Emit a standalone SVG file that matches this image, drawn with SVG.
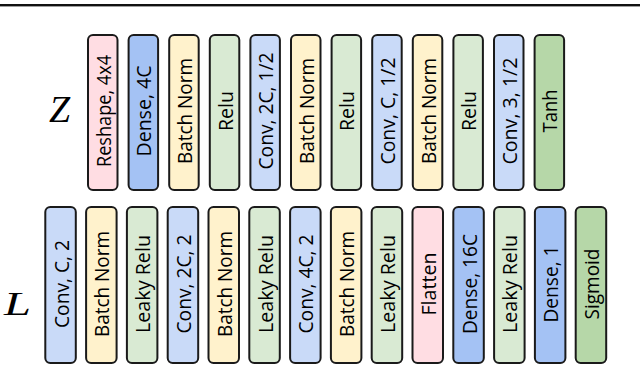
<svg xmlns="http://www.w3.org/2000/svg" width="640" height="366" viewBox="0 0 640 366">
<style>
.b{stroke:#1a1a1a;stroke-width:2;}
.pink{fill:#ffdde3}.dense{fill:#a4c2f4}.conv{fill:#c9daf8}.bn{fill:#fff2cc}.relu{fill:#d9ead3}.out{fill:#b6d7a8}
.t{font-family:"Open Sans","Noto Sans",sans-serif;font-size:20px;fill:#000;text-anchor:middle;}
.m{font-family:"Liberation Serif","DejaVu Serif",serif;font-style:italic;font-weight:normal;fill:#000;}
</style>
<defs>
<rect id="top" x="0" y="0" width="29.5" height="155" rx="5"/>
<rect id="bot" x="0" y="0" width="30.5" height="156" rx="5"/>
</defs>
<rect x="0" y="4" width="640" height="2.4" fill="#111"/>
<text class="m" x="49" y="122" font-size="38">Z</text>
<text class="m" x="4" y="315" font-size="34" textLength="27" lengthAdjust="spacingAndGlyphs">L</text>

<g id="generator">
<g id="g1"><use href="#top" x="88" y="35" class="b pink"/><text class="t" transform="translate(110.75,111) rotate(-90)" textLength="112" lengthAdjust="spacingAndGlyphs">Reshape, 4x4</text></g>
<g id="g2"><use href="#top" x="128.6" y="35" class="b dense"/><text class="t" transform="translate(151.35,111) rotate(-90)" textLength="91" lengthAdjust="spacingAndGlyphs">Dense, 4C</text></g>
<g id="g3"><use href="#top" x="169.2" y="35" class="b bn"/><text class="t" transform="translate(191.95,111) rotate(-90)" textLength="106" lengthAdjust="spacingAndGlyphs">Batch Norm</text></g>
<g id="g4"><use href="#top" x="209.8" y="35" class="b relu"/><text class="t" transform="translate(232.55,111) rotate(-90)" textLength="40" lengthAdjust="spacingAndGlyphs">Relu</text></g>
<g id="g5"><use href="#top" x="250.4" y="35" class="b conv"/><text class="t" transform="translate(273.15,111) rotate(-90)" textLength="117" lengthAdjust="spacingAndGlyphs">Conv, 2C, 1/2</text></g>
<g id="g6"><use href="#top" x="291" y="35" class="b bn"/><text class="t" transform="translate(313.75,111) rotate(-90)" textLength="106" lengthAdjust="spacingAndGlyphs">Batch Norm</text></g>
<g id="g7"><use href="#top" x="331.6" y="35" class="b relu"/><text class="t" transform="translate(354.35,111) rotate(-90)" textLength="40" lengthAdjust="spacingAndGlyphs">Relu</text></g>
<g id="g8"><use href="#top" x="372.2" y="35" class="b conv"/><text class="t" transform="translate(394.95,111) rotate(-90)" textLength="107" lengthAdjust="spacingAndGlyphs">Conv, C, 1/2</text></g>
<g id="g9"><use href="#top" x="412.8" y="35" class="b bn"/><text class="t" transform="translate(435.55,111) rotate(-90)" textLength="106" lengthAdjust="spacingAndGlyphs">Batch Norm</text></g>
<g id="g10"><use href="#top" x="453.4" y="35" class="b relu"/><text class="t" transform="translate(476.15,111) rotate(-90)" textLength="40" lengthAdjust="spacingAndGlyphs">Relu</text></g>
<g id="g11"><use href="#top" x="494" y="35" class="b conv"/><text class="t" transform="translate(516.75,111) rotate(-90)" textLength="107" lengthAdjust="spacingAndGlyphs">Conv, 3, 1/2</text></g>
<g id="g12"><use href="#top" x="534.6" y="35" class="b out"/><text class="t" transform="translate(557.35,111) rotate(-90)" textLength="43" lengthAdjust="spacingAndGlyphs">Tanh</text></g>
</g>

<g id="discriminator">
<g id="d1"><use href="#bot" x="45.3" y="207" class="b conv"/><text class="t" transform="translate(68.5,284) rotate(-90)" textLength="88" lengthAdjust="spacingAndGlyphs">Conv, C, 2</text></g>
<g id="d2"><use href="#bot" x="86.1" y="207" class="b bn"/><text class="t" transform="translate(109.3,284) rotate(-90)" textLength="106" lengthAdjust="spacingAndGlyphs">Batch Norm</text></g>
<g id="d3"><use href="#bot" x="126.9" y="207" class="b relu"/><text class="t" transform="translate(150.1,284) rotate(-90)" textLength="98" lengthAdjust="spacingAndGlyphs">Leaky Relu</text></g>
<g id="d4"><use href="#bot" x="167.7" y="207" class="b conv"/><text class="t" transform="translate(190.9,284) rotate(-90)" textLength="99" lengthAdjust="spacingAndGlyphs">Conv, 2C, 2</text></g>
<g id="d5"><use href="#bot" x="208.5" y="207" class="b bn"/><text class="t" transform="translate(231.7,284) rotate(-90)" textLength="106" lengthAdjust="spacingAndGlyphs">Batch Norm</text></g>
<g id="d6"><use href="#bot" x="249.3" y="207" class="b relu"/><text class="t" transform="translate(272.5,284) rotate(-90)" textLength="98" lengthAdjust="spacingAndGlyphs">Leaky Relu</text></g>
<g id="d7"><use href="#bot" x="290.1" y="207" class="b conv"/><text class="t" transform="translate(313.3,284) rotate(-90)" textLength="99" lengthAdjust="spacingAndGlyphs">Conv, 4C, 2</text></g>
<g id="d8"><use href="#bot" x="330.9" y="207" class="b bn"/><text class="t" transform="translate(354.1,284) rotate(-90)" textLength="106" lengthAdjust="spacingAndGlyphs">Batch Norm</text></g>
<g id="d9"><use href="#bot" x="371.7" y="207" class="b relu"/><text class="t" transform="translate(394.9,284) rotate(-90)" textLength="98" lengthAdjust="spacingAndGlyphs">Leaky Relu</text></g>
<g id="d10"><use href="#bot" x="412.5" y="207" class="b pink"/><text class="t" transform="translate(435.7,284) rotate(-90)" textLength="63" lengthAdjust="spacingAndGlyphs">Flatten</text></g>
<g id="d11"><use href="#bot" x="453.3" y="207" class="b dense"/><text class="t" transform="translate(476.5,284) rotate(-90)" textLength="100" lengthAdjust="spacingAndGlyphs">Dense, 16C</text></g>
<g id="d12"><use href="#bot" x="494.1" y="207" class="b relu"/><text class="t" transform="translate(517.3,284) rotate(-90)" textLength="98" lengthAdjust="spacingAndGlyphs">Leaky Relu</text></g>
<g id="d13"><use href="#bot" x="534.9" y="207" class="b dense"/><text class="t" transform="translate(558.1,284) rotate(-90)" textLength="77" lengthAdjust="spacingAndGlyphs">Dense, 1</text></g>
<g id="d14"><use href="#bot" x="575.7" y="207" class="b out"/><text class="t" transform="translate(598.9,284) rotate(-90)" textLength="71" lengthAdjust="spacingAndGlyphs">Sigmoid</text></g>
</g>
</svg>
